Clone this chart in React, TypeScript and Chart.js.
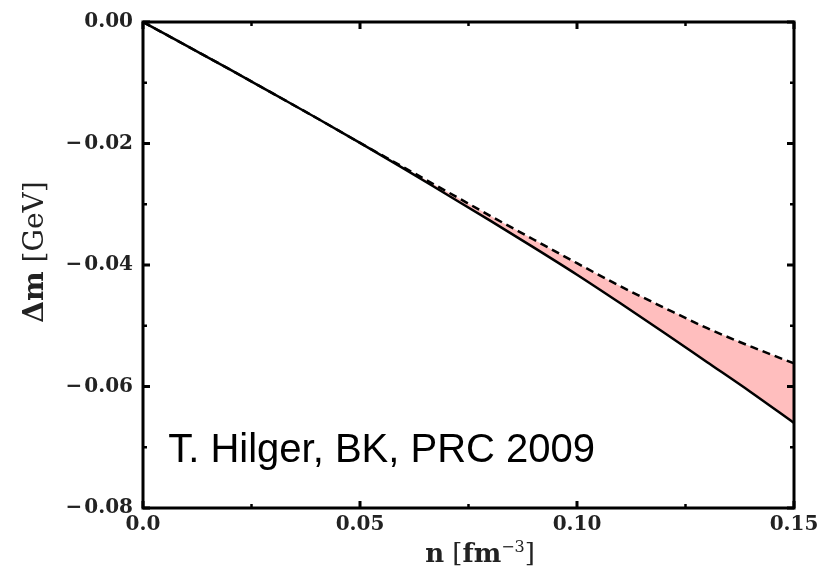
import React, { useEffect, useRef } from "react";
import { Chart, registerables } from "chart.js";

Chart.register(...registerables);

// Density n [fm^-3]
const nValues = [0, 0.01, 0.02, 0.03, 0.04, 0.05, 0.06, 0.07, 0.08, 0.09, 0.1, 0.11, 0.12, 0.13, 0.14, 0.15];
// Mass shift, solid curve [GeV]
const massShiftSolid = [0, -0.0039, -0.0078, -0.0118, -0.0158, -0.0199, -0.0241, -0.0284, -0.0327, -0.0371, -0.0416, -0.0463, -0.0511, -0.056, -0.0609, -0.066];
// Mass shift, dashed curve [GeV]
const massShiftDashed = [0, -0.0039, -0.0078, -0.0118, -0.0158, -0.0199, -0.0239, -0.0279, -0.0319, -0.0358, -0.0397, -0.0435, -0.047, -0.0504, -0.0534, -0.0562];

const xTickValues = [0, 0.05, 0.1, 0.15];
const xTickLabels = ["0.0", "0.05", "0.10", "0.15"];
const xMinorTicks = [0.025, 0.075, 0.125];
const yTickValues = [0, -0.02, -0.04, -0.06, -0.08];
const yTickLabels = ["0.00", "\u2212\u200A0.02", "\u2212\u200A0.04", "\u2212\u200A0.06", "\u2212\u200A0.08"];
const yMinorTicks = [-0.01, -0.03, -0.05, -0.07];

const annotationText = "T. Hilger, BK, PRC 2009";
const annotationX = 0.0058;
const annotationY = -0.0724;

const SERIF = "'DejaVu Serif', serif";

type Run = { text: string; font: string; rise?: number };

function drawRuns(ctx: CanvasRenderingContext2D, runs: Run[], cx: number, baseline: number) {
  let total = 0;
  runs.forEach((r) => {
    ctx.font = r.font;
    total += ctx.measureText(r.text).width;
  });
  let x = cx - total / 2;
  runs.forEach((r) => {
    ctx.font = r.font;
    ctx.fillText(r.text, x, baseline - (r.rise || 0));
    x += ctx.measureText(r.text).width;
  });
}

const framePlugin = {
  id: "frameTicks",
  afterDraw(chart: any) {
    const { ctx, chartArea, scales } = chart;
    const { left, right, top, bottom } = chartArea;
    const xs = scales.x;
    const ys = scales.y;
    ctx.save();
    ctx.strokeStyle = "#000";
    ctx.lineWidth = 3;
    ctx.strokeRect(left, top, right - left, bottom - top);
    const drawX = (vals: number[], len: number) => {
      vals.forEach((v) => {
        const px = xs.getPixelForValue(v);
        ctx.beginPath();
        ctx.moveTo(px, bottom);
        ctx.lineTo(px, bottom - len);
        ctx.moveTo(px, top);
        ctx.lineTo(px, top + len);
        ctx.stroke();
      });
    };
    const drawY = (vals: number[], len: number) => {
      vals.forEach((v) => {
        const py = ys.getPixelForValue(v);
        ctx.beginPath();
        ctx.moveTo(left, py);
        ctx.lineTo(left + len, py);
        ctx.moveTo(right, py);
        ctx.lineTo(right - len, py);
        ctx.stroke();
      });
    };
    ctx.lineWidth = 3;
    drawX(xTickValues, 7);
    drawY(yTickValues, 7);
    ctx.lineWidth = 2.5;
    drawX(xMinorTicks, 4);
    drawY(yMinorTicks, 4);

    ctx.fillStyle = "#000";
    ctx.font = "40px 'Liberation Sans', Arial, sans-serif";
    ctx.textAlign = "left";
    ctx.textBaseline = "alphabetic";
    ctx.fillText(annotationText, xs.getPixelForValue(annotationX), ys.getPixelForValue(annotationY));

    // Axis titles
    ctx.fillStyle = "#222";
    const xb = `bold 26px ${SERIF}`;
    const xr = `26px ${SERIF}`;
    drawRuns(
      ctx,
      [
        { text: "n", font: xb },
        { text: " [", font: xr },
        { text: "fm", font: xb },
        { text: "\u22123", font: `16px ${SERIF}`, rise: 10 },
        { text: "]", font: xr },
      ],
      480,
      562
    );
    ctx.save();
    ctx.translate(43, 252);
    ctx.rotate(-Math.PI / 2);
    drawRuns(
      ctx,
      [
        { text: "\u0394m", font: `bold 28px ${SERIF}` },
        { text: " [GeV]", font: `28px ${SERIF}` },
      ],
      0,
      0
    );
    ctx.restore();
    ctx.restore();
  },
};

export default function App() {
  const canvasRef = useRef<HTMLCanvasElement | null>(null);

  useEffect(() => {
    const canvas = canvasRef.current;
    if (!canvas) return;
    const tickFont = { family: SERIF, size: 20, weight: "bold" as const };
    const chart = new Chart(canvas, {
      type: "line",
      data: {
        datasets: [
          {
            data: nValues.map((n, i) => ({ x: n, y: massShiftSolid[i] })),
            borderColor: "#000",
            borderWidth: 2.5,
            pointRadius: 0,
            fill: false,
            cubicInterpolationMode: "monotone",
          },
          {
            data: nValues.map((n, i) => ({ x: n, y: massShiftDashed[i] })),
            borderColor: "#000",
            borderWidth: 2.5,
            borderDash: [8, 5],
            pointRadius: 0,
            fill: "-1",
            backgroundColor: "rgb(255,190,190)",
            cubicInterpolationMode: "monotone",
          },
        ],
      },
      options: {
        animation: false,
        responsive: false,
        devicePixelRatio: 1,
        layout: { padding: { top: 22, right: 34, left: 0, bottom: 0 } },
        plugins: { legend: { display: false }, tooltip: { enabled: false } },
        scales: {
          x: {
            type: "linear",
            min: 0,
            max: 0.15,
            grid: { display: false, drawTicks: false },
            border: { display: false },
            afterBuildTicks: (s: any) => {
              s.ticks = xTickValues.map((v) => ({ value: v }));
            },
            afterFit: (s: any) => {
              s.height = 67;
            },
            ticks: {
              autoSkip: false,
              maxRotation: 0,
              padding: 5,
              color: "#222",
              font: tickFont,
              callback: (v: any) => {
                const i = xTickValues.findIndex((t) => Math.abs(t - Number(v)) < 1e-9);
                return i >= 0 ? xTickLabels[i] : "";
              },
            },
          },
          y: {
            type: "linear",
            min: -0.08,
            max: 0,
            grid: { display: false, drawTicks: false },
            border: { display: false },
            afterBuildTicks: (s: any) => {
              s.ticks = yTickValues.map((v) => ({ value: v }));
            },
            afterFit: (s: any) => {
              s.width = 143;
            },
            ticks: {
              autoSkip: false,
              padding: 10,
              color: "#222",
              font: tickFont,
              callback: (v: any) => {
                const i = yTickValues.findIndex((t) => Math.abs(t - Number(v)) < 1e-9);
                return i >= 0 ? yTickLabels[i] : "";
              },
            },
          },
        },
      },
      plugins: [framePlugin],
    } as any);
    return () => chart.destroy();
  }, []);

  return (
    <div style={{ position: "fixed", left: 0, top: 0, width: 828, height: 575, background: "#fff" }}>
      <canvas ref={canvasRef} width={828} height={575} style={{ display: "block" }} />
    </div>
  );
}
